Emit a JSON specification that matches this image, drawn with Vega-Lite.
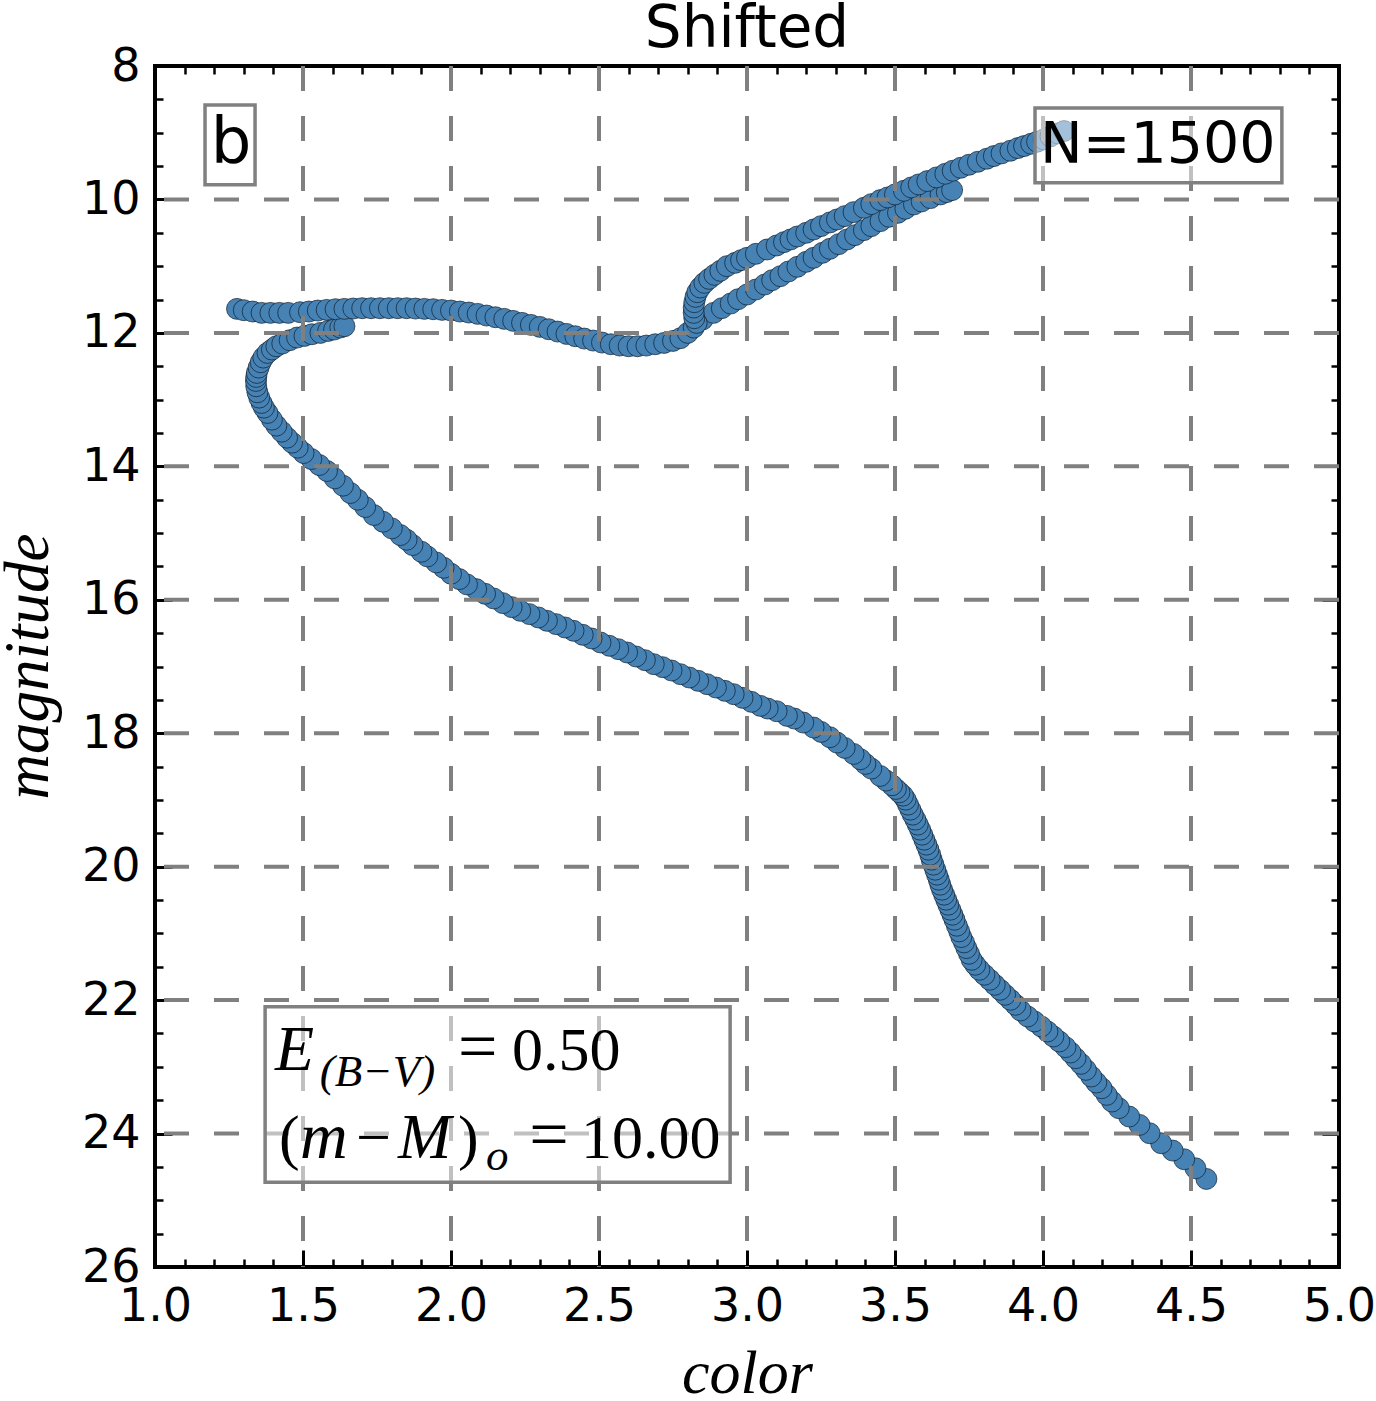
{
  "$schema": "https://vega.github.io/schema/vega-lite/v6.json",
  "width": 1184,
  "height": 1201,
  "autosize": {"type": "none"},
  "padding": {"left": 155, "top": 66, "right": 37, "bottom": 134},
  "background": "white",
  "config": {
    "view": {"stroke": "black", "strokeWidth": 4},
    "axis": {
      "domain": false,
      "grid": false,
      "tickColor": "black",
      "tickWidth": 3,
      "labelColor": "black",
      "labelFont": "DejaVu Sans",
      "labelFontSize": 46,
      "labelFlush": false,
      "labelOverlap": false,
      "labelBound": false,
      "titleColor": "black"
    }
  },
  "datasets": {
    "isochrone": [
      {"color": 4.552, "magnitude": 24.68}, {"color": 4.515, "magnitude": 24.52}, {"color": 4.477, "magnitude": 24.385},
      {"color": 4.438, "magnitude": 24.255}, {"color": 4.399, "magnitude": 24.145}, {"color": 4.36, "magnitude": 23.995},
      {"color": 4.326, "magnitude": 23.87}, {"color": 4.291, "magnitude": 23.745}, {"color": 4.256, "magnitude": 23.62},
      {"color": 4.233, "magnitude": 23.52}, {"color": 4.215, "magnitude": 23.42}, {"color": 4.198, "magnitude": 23.32},
      {"color": 4.18, "magnitude": 23.235}, {"color": 4.163, "magnitude": 23.145}, {"color": 4.145, "magnitude": 23.045},
      {"color": 4.128, "magnitude": 22.955}, {"color": 4.11, "magnitude": 22.87}, {"color": 4.093, "magnitude": 22.785},
      {"color": 4.076, "magnitude": 22.705}, {"color": 4.055, "magnitude": 22.62}, {"color": 4.035, "magnitude": 22.545},
      {"color": 4.015, "magnitude": 22.47}, {"color": 3.994, "magnitude": 22.395}, {"color": 3.971, "magnitude": 22.32},
      {"color": 3.948, "magnitude": 22.245}, {"color": 3.924, "magnitude": 22.155}, {"color": 3.907, "magnitude": 22.07},
      {"color": 3.89, "magnitude": 21.995}, {"color": 3.872, "magnitude": 21.92}, {"color": 3.855, "magnitude": 21.845},
      {"color": 3.837, "magnitude": 21.77}, {"color": 3.82, "magnitude": 21.695}, {"color": 3.802, "magnitude": 21.62},
      {"color": 3.785, "magnitude": 21.545}, {"color": 3.771, "magnitude": 21.47}, {"color": 3.759, "magnitude": 21.395},
      {"color": 3.75, "magnitude": 21.305}, {"color": 3.741, "magnitude": 21.22}, {"color": 3.733, "magnitude": 21.135},
      {"color": 3.724, "magnitude": 21.055}, {"color": 3.717, "magnitude": 20.97},
      {"color": 3.709, "magnitude": 20.885}, {"color": 3.701, "magnitude": 20.795}, {"color": 3.694, "magnitude": 20.72},
      {"color": 3.687, "magnitude": 20.645}, {"color": 3.68, "magnitude": 20.57}, {"color": 3.673, "magnitude": 20.495},
      {"color": 3.666, "magnitude": 20.42}, {"color": 3.659, "magnitude": 20.345}, {"color": 3.653, "magnitude": 20.27},
      {"color": 3.648, "magnitude": 20.195}, {"color": 3.642, "magnitude": 20.12}, {"color": 3.636, "magnitude": 20.045},
      {"color": 3.63, "magnitude": 19.97}, {"color": 3.624, "magnitude": 19.895}, {"color": 3.619, "magnitude": 19.82},
      {"color": 3.613, "magnitude": 19.745}, {"color": 3.606, "magnitude": 19.67}, {"color": 3.599, "magnitude": 19.595},
      {"color": 3.592, "magnitude": 19.52}, {"color": 3.585, "magnitude": 19.445}, {"color": 3.577, "magnitude": 19.37},
      {"color": 3.569, "magnitude": 19.295}, {"color": 3.56, "magnitude": 19.22}, {"color": 3.552, "magnitude": 19.145},
      {"color": 3.544, "magnitude": 19.07}, {"color": 3.536, "magnitude": 18.995}, {"color": 3.527, "magnitude": 18.935},
      {"color": 3.515, "magnitude": 18.885}, {"color": 3.503, "magnitude": 18.835},
      {"color": 3.49, "magnitude": 18.78}, {"color": 3.47, "magnitude": 18.71}, {"color": 3.45, "magnitude": 18.64},
      {"color": 3.42, "magnitude": 18.53}, {"color": 3.4, "magnitude": 18.46}, {"color": 3.383, "magnitude": 18.39},
      {"color": 3.36, "magnitude": 18.31}, {"color": 3.33, "magnitude": 18.22}, {"color": 3.304, "magnitude": 18.14},
      {"color": 3.28, "magnitude": 18.06}, {"color": 3.25, "magnitude": 17.98}, {"color": 3.225, "magnitude": 17.915},
      {"color": 3.19, "magnitude": 17.84}, {"color": 3.16, "magnitude": 17.78}, {"color": 3.135, "magnitude": 17.74},
      {"color": 3.1, "magnitude": 17.67}, {"color": 3.07, "magnitude": 17.63}, {"color": 3.045, "magnitude": 17.59},
      {"color": 3.015, "magnitude": 17.53}, {"color": 2.985, "magnitude": 17.47}, {"color": 2.955, "magnitude": 17.415},
      {"color": 2.925, "magnitude": 17.365}, {"color": 2.895, "magnitude": 17.315}, {"color": 2.865, "magnitude": 17.265},
      {"color": 2.835, "magnitude": 17.215}, {"color": 2.805, "magnitude": 17.165}, {"color": 2.775, "magnitude": 17.115},
      {"color": 2.745, "magnitude": 17.06}, {"color": 2.715, "magnitude": 17.01}, {"color": 2.685, "magnitude": 16.965},
      {"color": 2.655, "magnitude": 16.905}, {"color": 2.625, "magnitude": 16.85}, {"color": 2.595, "magnitude": 16.79},
      {"color": 2.565, "magnitude": 16.74}, {"color": 2.535, "magnitude": 16.69}, {"color": 2.505, "magnitude": 16.64},
      {"color": 2.475, "magnitude": 16.58}, {"color": 2.445, "magnitude": 16.525}, {"color": 2.414, "magnitude": 16.465},
      {"color": 2.385, "magnitude": 16.415}, {"color": 2.355, "magnitude": 16.365}, {"color": 2.324, "magnitude": 16.315},
      {"color": 2.295, "magnitude": 16.265}, {"color": 2.265, "magnitude": 16.215}, {"color": 2.234, "magnitude": 16.165},
      {"color": 2.205, "magnitude": 16.11}, {"color": 2.175, "magnitude": 16.05}, {"color": 2.144, "magnitude": 15.98},
      {"color": 2.115, "magnitude": 15.91}, {"color": 2.085, "magnitude": 15.84}, {"color": 2.054, "magnitude": 15.77},
      {"color": 2.028, "magnitude": 15.69}, {"color": 2.0, "magnitude": 15.61}, {"color": 1.975, "magnitude": 15.52},
      {"color": 1.95, "magnitude": 15.44}, {"color": 1.92, "magnitude": 15.35}, {"color": 1.9, "magnitude": 15.28},
      {"color": 1.87, "magnitude": 15.18}, {"color": 1.85, "magnitude": 15.1}, {"color": 1.829, "magnitude": 15.03},
      {"color": 1.8, "magnitude": 14.93}, {"color": 1.77, "magnitude": 14.83}, {"color": 1.739, "magnitude": 14.73},
      {"color": 1.71, "magnitude": 14.61}, {"color": 1.685, "magnitude": 14.5}, {"color": 1.66, "magnitude": 14.4},
      {"color": 1.635, "magnitude": 14.29}, {"color": 1.607, "magnitude": 14.18}, {"color": 1.581, "magnitude": 14.07},
      {"color": 1.555, "magnitude": 13.98}, {"color": 1.528, "magnitude": 13.89}, {"color": 1.502, "magnitude": 13.8},
      {"color": 1.482, "magnitude": 13.72}, {"color": 1.463, "magnitude": 13.645}, {"color": 1.446, "magnitude": 13.57},
      {"color": 1.428, "magnitude": 13.48}, {"color": 1.41, "magnitude": 13.39}, {"color": 1.395, "magnitude": 13.3},
      {"color": 1.38, "magnitude": 13.2}, {"color": 1.368, "magnitude": 13.12}, {"color": 1.36, "magnitude": 13.05},
      {"color": 1.352, "magnitude": 12.97}, {"color": 1.346, "magnitude": 12.89}, {"color": 1.342, "magnitude": 12.8},
      {"color": 1.341, "magnitude": 12.72}, {"color": 1.342, "magnitude": 12.66}, {"color": 1.344, "magnitude": 12.6},
      {"color": 1.35, "magnitude": 12.52}, {"color": 1.357, "magnitude": 12.44}, {"color": 1.366, "magnitude": 12.37},
      {"color": 1.38, "magnitude": 12.3}, {"color": 1.395, "magnitude": 12.25}, {"color": 1.41, "magnitude": 12.2},
      {"color": 1.43, "magnitude": 12.16}, {"color": 1.455, "magnitude": 12.11}, {"color": 1.48, "magnitude": 12.07},
      {"color": 1.505, "magnitude": 12.045}, {"color": 1.53, "magnitude": 12.02}, {"color": 1.559, "magnitude": 12.0},
      {"color": 1.585, "magnitude": 11.97}, {"color": 1.605, "magnitude": 11.95}, {"color": 1.626, "magnitude": 11.92},
      {"color": 1.64, "magnitude": 11.9},
      {"color": 1.277, "magnitude": 11.64}, {"color": 1.3, "magnitude": 11.66}, {"color": 1.33, "magnitude": 11.68},
      {"color": 1.36, "magnitude": 11.7}, {"color": 1.39, "magnitude": 11.7}, {"color": 1.42, "magnitude": 11.7},
      {"color": 1.45, "magnitude": 11.7}, {"color": 1.49, "magnitude": 11.69}, {"color": 1.52, "magnitude": 11.68},
      {"color": 1.55, "magnitude": 11.665}, {"color": 1.58, "magnitude": 11.655}, {"color": 1.61, "magnitude": 11.645},
      {"color": 1.64, "magnitude": 11.64}, {"color": 1.67, "magnitude": 11.635}, {"color": 1.7, "magnitude": 11.63},
      {"color": 1.73, "magnitude": 11.63}, {"color": 1.76, "magnitude": 11.63}, {"color": 1.79, "magnitude": 11.63},
      {"color": 1.82, "magnitude": 11.63}, {"color": 1.85, "magnitude": 11.63}, {"color": 1.88, "magnitude": 11.635},
      {"color": 1.91, "magnitude": 11.64}, {"color": 1.94, "magnitude": 11.645}, {"color": 1.97, "magnitude": 11.655},
      {"color": 2.0, "magnitude": 11.665}, {"color": 2.03, "magnitude": 11.68}, {"color": 2.06, "magnitude": 11.695},
      {"color": 2.09, "magnitude": 11.715}, {"color": 2.12, "magnitude": 11.74}, {"color": 2.15, "magnitude": 11.765},
      {"color": 2.18, "magnitude": 11.79}, {"color": 2.21, "magnitude": 11.82}, {"color": 2.24, "magnitude": 11.85},
      {"color": 2.27, "magnitude": 11.88}, {"color": 2.3, "magnitude": 11.91}, {"color": 2.33, "magnitude": 11.945},
      {"color": 2.36, "magnitude": 11.98}, {"color": 2.39, "magnitude": 12.015}, {"color": 2.42, "magnitude": 12.05},
      {"color": 2.45, "magnitude": 12.085}, {"color": 2.48, "magnitude": 12.115}, {"color": 2.51, "magnitude": 12.145},
      {"color": 2.54, "magnitude": 12.17}, {"color": 2.57, "magnitude": 12.19}, {"color": 2.6, "magnitude": 12.2},
      {"color": 2.63, "magnitude": 12.2}, {"color": 2.66, "magnitude": 12.19}, {"color": 2.69, "magnitude": 12.17},
      {"color": 2.72, "magnitude": 12.15}, {"color": 2.75, "magnitude": 12.12}, {"color": 2.775, "magnitude": 12.08},
      {"color": 2.8, "magnitude": 12.0}, {"color": 2.82, "magnitude": 11.92},
      {"color": 2.85, "magnitude": 11.8}, {"color": 2.887, "magnitude": 11.7}, {"color": 2.915, "magnitude": 11.63},
      {"color": 2.945, "magnitude": 11.56}, {"color": 2.97, "magnitude": 11.495}, {"color": 3.0, "magnitude": 11.425},
      {"color": 3.03, "magnitude": 11.35}, {"color": 3.06, "magnitude": 11.275}, {"color": 3.085, "magnitude": 11.21},
      {"color": 3.113, "magnitude": 11.15}, {"color": 3.14, "magnitude": 11.08}, {"color": 3.17, "magnitude": 11.01},
      {"color": 3.2, "magnitude": 10.935}, {"color": 3.225, "magnitude": 10.875}, {"color": 3.255, "magnitude": 10.8},
      {"color": 3.28, "magnitude": 10.74}, {"color": 3.31, "magnitude": 10.67}, {"color": 3.338, "magnitude": 10.6},
      {"color": 3.365, "magnitude": 10.535}, {"color": 3.395, "magnitude": 10.46}, {"color": 3.42, "magnitude": 10.4},
      {"color": 3.451, "magnitude": 10.325}, {"color": 3.48, "magnitude": 10.26}, {"color": 3.51, "magnitude": 10.2},
      {"color": 3.535, "magnitude": 10.14}, {"color": 3.564, "magnitude": 10.075}, {"color": 3.59, "magnitude": 10.03},
      {"color": 3.62, "magnitude": 9.98}, {"color": 3.654, "magnitude": 9.925}, {"color": 3.675, "magnitude": 9.89},
      {"color": 3.693, "magnitude": 9.86},
      {"color": 2.83, "magnitude": 11.85}, {"color": 2.822, "magnitude": 11.78}, {"color": 2.82, "magnitude": 11.7},
      {"color": 2.82, "magnitude": 11.62}, {"color": 2.822, "magnitude": 11.54}, {"color": 2.826, "magnitude": 11.46},
      {"color": 2.832, "magnitude": 11.39}, {"color": 2.842, "magnitude": 11.32}, {"color": 2.856, "magnitude": 11.25},
      {"color": 2.872, "magnitude": 11.19}, {"color": 2.89, "magnitude": 11.13}, {"color": 2.91, "magnitude": 11.07},
      {"color": 2.932, "magnitude": 11.0}, {"color": 2.96, "magnitude": 10.95}, {"color": 2.98, "magnitude": 10.91},
      {"color": 3.0, "magnitude": 10.875}, {"color": 3.03, "magnitude": 10.815}, {"color": 3.068, "magnitude": 10.75},
      {"color": 3.1, "magnitude": 10.69}, {"color": 3.125, "magnitude": 10.64}, {"color": 3.147, "magnitude": 10.6},
      {"color": 3.17, "magnitude": 10.555}, {"color": 3.2, "magnitude": 10.5}, {"color": 3.225, "magnitude": 10.45},
      {"color": 3.25, "magnitude": 10.4}, {"color": 3.28, "magnitude": 10.345}, {"color": 3.304, "magnitude": 10.3},
      {"color": 3.33, "magnitude": 10.25}, {"color": 3.36, "magnitude": 10.19}, {"color": 3.395, "magnitude": 10.125},
      {"color": 3.42, "magnitude": 10.07}, {"color": 3.45, "magnitude": 10.01}, {"color": 3.475, "magnitude": 9.97},
      {"color": 3.5, "magnitude": 9.925}, {"color": 3.53, "magnitude": 9.87}, {"color": 3.555, "magnitude": 9.82},
      {"color": 3.58, "magnitude": 9.775}, {"color": 3.609, "magnitude": 9.725}, {"color": 3.64, "magnitude": 9.67},
      {"color": 3.67, "magnitude": 9.615}, {"color": 3.695, "magnitude": 9.57}, {"color": 3.722, "magnitude": 9.525},
      {"color": 3.75, "magnitude": 9.48}, {"color": 3.78, "magnitude": 9.435}, {"color": 3.81, "magnitude": 9.39},
      {"color": 3.834, "magnitude": 9.35}, {"color": 3.86, "magnitude": 9.31}, {"color": 3.89, "magnitude": 9.27},
      {"color": 3.915, "magnitude": 9.23}, {"color": 3.936, "magnitude": 9.2}, {"color": 3.96, "magnitude": 9.165},
      {"color": 3.98, "magnitude": 9.135}, {"color": 4.003, "magnitude": 9.1}, {"color": 4.025, "magnitude": 9.055},
      {"color": 4.05, "magnitude": 9.01}, {"color": 4.071, "magnitude": 8.975}
    ]
  },
  "layer": [
    {
      "data": {"name": "isochrone"},
      "mark": {"type": "circle", "size": 440, "color": "#4682b4", "opacity": 1, "stroke": "#0d1b2a", "strokeWidth": 0.8, "strokeOpacity": 0.85},
      "encoding": {
        "x": {
          "field": "color", "type": "quantitative",
          "scale": {"domain": [1, 5], "nice": false, "zero": false},
          "axis": {
            "orient": "bottom", "values": [1, 1.5, 2, 2.5, 3, 3.5, 4, 4.5, 5], "format": ".1f",
            "tickSize": -17, "labelPadding": 34,
            "title": "color", "titleFont": "Liberation Serif", "titleFontStyle": "italic", "titleFontWeight": "normal",
            "titleFontSize": 62, "titleX": 592, "titleY": 125, "titleBaseline": "alphabetic"
          }
        },
        "y": {
          "field": "magnitude", "type": "quantitative",
          "scale": {"domain": [8, 26], "reverse": true, "nice": false, "zero": false},
          "axis": {
            "orient": "left", "values": [8, 10, 12, 14, 16, 18, 20, 22, 24, 26], "format": "d",
            "tickSize": -17, "labelPadding": 32,
            "title": "magnitude", "titleFont": "Liberation Serif", "titleFontStyle": "italic", "titleFontWeight": "normal",
            "titleFontSize": 63, "titleX": -108, "titleY": 600, "titleAngle": 270, "titleBaseline": "alphabetic"
          }
        }
      }
    },
    {
      "data": {"values": [{"grid": 1.5}, {"grid": 2}, {"grid": 2.5}, {"grid": 3}, {"grid": 3.5}, {"grid": 4}, {"grid": 4.5}]},
      "mark": {"type": "rule", "color": "#808080", "strokeWidth": 4, "strokeDash": [25, 25]},
      "encoding": {"x": {"field": "grid", "type": "quantitative", "axis": null}}
    },
    {
      "data": {"values": [{"grid": 10}, {"grid": 12}, {"grid": 14}, {"grid": 16}, {"grid": 18}, {"grid": 20}, {"grid": 22}, {"grid": 24}]},
      "mark": {"type": "rule", "color": "#808080", "strokeWidth": 4, "strokeDash": [25, 25]},
      "encoding": {"y": {"field": "grid", "type": "quantitative", "axis": null}}
    },
    {
      "data": {"values": [{}]},
      "mark": {"type": "point", "opacity": 0},
      "encoding": {
        "x": {"datum": 3, "type": "quantitative", "axis": {"orient": "bottom", "values": [1.1, 1.2, 1.3, 1.4, 1.6, 1.7, 1.8, 1.9, 2.1, 2.2, 2.3, 2.4, 2.6, 2.7, 2.8, 2.9, 3.1, 3.2, 3.3, 3.4, 3.6, 3.7, 3.8, 3.9, 4.1, 4.2, 4.3, 4.4, 4.6, 4.7, 4.8, 4.9], "tickSize": -8, "tickWidth": 2.5, "labels": false, "title": null}},
        "y": {"datum": 17, "type": "quantitative", "axis": {"orient": "left", "values": [8.5, 9, 9.5, 10.5, 11, 11.5, 12.5, 13, 13.5, 14.5, 15, 15.5, 16.5, 17, 17.5, 18.5, 19, 19.5, 20.5, 21, 21.5, 22.5, 23, 23.5, 24.5, 25, 25.5], "tickSize": -8, "tickWidth": 2.5, "labels": false, "title": null}}
      }
    },
    {
      "data": {"values": [{}]},
      "mark": {"type": "point", "opacity": 0},
      "encoding": {
        "x": {"datum": 3, "type": "quantitative", "axis": {"orient": "top", "values": [1, 1.5, 2, 2.5, 3, 3.5, 4, 4.5, 5], "tickSize": -17, "labels": false, "title": null}},
        "y": {"datum": 17, "type": "quantitative", "axis": {"orient": "right", "values": [8, 10, 12, 14, 16, 18, 20, 22, 24, 26], "tickSize": -17, "labels": false, "title": null}}
      }
    },
    {
      "data": {"values": [{}]},
      "mark": {"type": "point", "opacity": 0},
      "encoding": {
        "x": {"datum": 3, "type": "quantitative", "axis": {"orient": "top", "values": [1.1, 1.2, 1.3, 1.4, 1.6, 1.7, 1.8, 1.9, 2.1, 2.2, 2.3, 2.4, 2.6, 2.7, 2.8, 2.9, 3.1, 3.2, 3.3, 3.4, 3.6, 3.7, 3.8, 3.9, 4.1, 4.2, 4.3, 4.4, 4.6, 4.7, 4.8, 4.9], "tickSize": -8, "tickWidth": 2.5, "labels": false, "title": null}},
        "y": {"datum": 17, "type": "quantitative", "axis": {"orient": "right", "values": [8.5, 9, 9.5, 10.5, 11, 11.5, 12.5, 13, 13.5, 14.5, 15, 15.5, 16.5, 17, 17.5, 18.5, 19, 19.5, 20.5, 21, 21.5, 22.5, 23, 23.5, 24.5, 25, 25.5], "tickSize": -8, "tickWidth": 2.5, "labels": false, "title": null}}
      }
    },
    {
      "data": {"values": [{}]},
      "mark": {"type": "rect", "fill": "white", "fillOpacity": 0.5, "stroke": "#808080", "strokeWidth": 3.5},
      "encoding": {
        "x": {"datum": 1.169, "type": "quantitative", "axis": null}, "x2": {"datum": 1.338},
        "y": {"datum": 8.585, "type": "quantitative", "axis": null}, "y2": {"datum": 9.78}
      }
    },
    {
      "data": {"values": [{}]},
      "mark": {"type": "rect", "fill": "white", "fillOpacity": 0.5, "stroke": "#808080", "strokeWidth": 3.5},
      "encoding": {
        "x": {"datum": 3.973, "type": "quantitative", "axis": null}, "x2": {"datum": 4.807},
        "y": {"datum": 8.63, "type": "quantitative", "axis": null}, "y2": {"datum": 9.75}
      }
    },
    {
      "data": {"values": [{}]},
      "mark": {"type": "rect", "fill": "white", "fillOpacity": 0.5, "stroke": "#808080", "strokeWidth": 3.5},
      "encoding": {
        "x": {"datum": 1.372, "type": "quantitative", "axis": null}, "x2": {"datum": 2.943},
        "y": {"datum": 22.1, "type": "quantitative", "axis": null}, "y2": {"datum": 24.73}
      }
    },
    {
      "data": {"values": [{}]},
      "mark": {"type": "text", "text": "Shifted", "font": "DejaVu Sans", "fontSize": 58, "align": "center", "baseline": "alphabetic", "color": "black"},
      "encoding": {"x": {"datum": 3.0, "type": "quantitative", "axis": null}, "y": {"datum": 7.715, "type": "quantitative", "axis": null}}
    },
    {
      "data": {"values": [{}]},
      "mark": {"type": "text", "text": "b", "font": "DejaVu Sans", "fontSize": 64, "align": "center", "baseline": "alphabetic", "color": "black"},
      "encoding": {"x": {"datum": 1.257, "type": "quantitative", "axis": null}, "y": {"datum": 9.454, "type": "quantitative", "axis": null}}
    },
    {
      "data": {"values": [{}]},
      "mark": {"type": "text", "text": "N=1500", "font": "DejaVu Sans", "fontSize": 57, "align": "left", "baseline": "alphabetic", "color": "black"},
      "encoding": {"x": {"datum": 3.99, "type": "quantitative", "axis": null}, "y": {"datum": 9.454, "type": "quantitative", "axis": null}}
    },
    {
      "data": {"values": [{}]},
      "mark": {"type": "text", "text": "E", "font": "Liberation Serif", "fontStyle": "italic", "fontSize": 64, "align": "left", "baseline": "alphabetic", "color": "black"},
      "encoding": {"x": {"datum": 1.405, "type": "quantitative", "axis": null}, "y": {"datum": 23.048, "type": "quantitative", "axis": null}}
    },
    {
      "data": {"values": [{}]},
      "mark": {"type": "text", "text": "(B−V)", "font": "Liberation Serif", "fontStyle": "italic", "fontSize": 45, "align": "left", "baseline": "alphabetic", "color": "black"},
      "encoding": {"x": {"datum": 1.557, "type": "quantitative", "axis": null}, "y": {"datum": 23.288, "type": "quantitative", "axis": null}}
    },
    {
      "data": {"values": [{}]},
      "mark": {"type": "text", "text": "=", "font": "Liberation Serif", "fontSize": 70, "align": "left", "baseline": "alphabetic", "color": "black"},
      "encoding": {"x": {"datum": 2.024, "type": "quantitative", "axis": null}, "y": {"datum": 23.048, "type": "quantitative", "axis": null}}
    },
    {
      "data": {"values": [{}]},
      "mark": {"type": "text", "text": "0.50", "font": "Liberation Serif", "fontSize": 62, "align": "left", "baseline": "alphabetic", "color": "black"},
      "encoding": {"x": {"datum": 2.206, "type": "quantitative", "axis": null}, "y": {"datum": 23.048, "type": "quantitative", "axis": null}}
    },
    {
      "data": {"values": [{}]},
      "mark": {"type": "text", "text": "(", "font": "Liberation Serif", "fontSize": 62, "align": "left", "baseline": "alphabetic", "color": "black"},
      "encoding": {"x": {"datum": 1.419, "type": "quantitative", "axis": null}, "y": {"datum": 24.367, "type": "quantitative", "axis": null}}
    },
    {
      "data": {"values": [{}]},
      "mark": {"type": "text", "text": "m", "font": "Liberation Serif", "fontStyle": "italic", "fontSize": 66, "align": "left", "baseline": "alphabetic", "color": "black"},
      "encoding": {"x": {"datum": 1.49, "type": "quantitative", "axis": null}, "y": {"datum": 24.367, "type": "quantitative", "axis": null}}
    },
    {
      "data": {"values": [{}]},
      "mark": {"type": "text", "text": "−", "font": "Liberation Serif", "fontSize": 62, "align": "left", "baseline": "alphabetic", "color": "black"},
      "encoding": {"x": {"datum": 1.679, "type": "quantitative", "axis": null}, "y": {"datum": 24.367, "type": "quantitative", "axis": null}}
    },
    {
      "data": {"values": [{}]},
      "mark": {"type": "text", "text": "M", "font": "Liberation Serif", "fontStyle": "italic", "fontSize": 64, "align": "left", "baseline": "alphabetic", "color": "black"},
      "encoding": {"x": {"datum": 1.821, "type": "quantitative", "axis": null}, "y": {"datum": 24.367, "type": "quantitative", "axis": null}}
    },
    {
      "data": {"values": [{}]},
      "mark": {"type": "text", "text": ")", "font": "Liberation Serif", "fontSize": 62, "align": "left", "baseline": "alphabetic", "color": "black"},
      "encoding": {"x": {"datum": 2.024, "type": "quantitative", "axis": null}, "y": {"datum": 24.367, "type": "quantitative", "axis": null}}
    },
    {
      "data": {"values": [{}]},
      "mark": {"type": "text", "text": "o", "font": "Liberation Serif", "fontStyle": "italic", "fontSize": 45, "align": "left", "baseline": "alphabetic", "color": "black"},
      "encoding": {"x": {"datum": 2.118, "type": "quantitative", "axis": null}, "y": {"datum": 24.547, "type": "quantitative", "axis": null}}
    },
    {
      "data": {"values": [{}]},
      "mark": {"type": "text", "text": "=", "font": "Liberation Serif", "fontSize": 70, "align": "left", "baseline": "alphabetic", "color": "black"},
      "encoding": {"x": {"datum": 2.264, "type": "quantitative", "axis": null}, "y": {"datum": 24.367, "type": "quantitative", "axis": null}}
    },
    {
      "data": {"values": [{}]},
      "mark": {"type": "text", "text": "10.00", "font": "Liberation Serif", "fontSize": 62, "align": "left", "baseline": "alphabetic", "color": "black"},
      "encoding": {"x": {"datum": 2.439, "type": "quantitative", "axis": null}, "y": {"datum": 24.367, "type": "quantitative", "axis": null}}
    }
  ],
  "resolve": {"axis": {"x": "independent", "y": "independent"}}
}
